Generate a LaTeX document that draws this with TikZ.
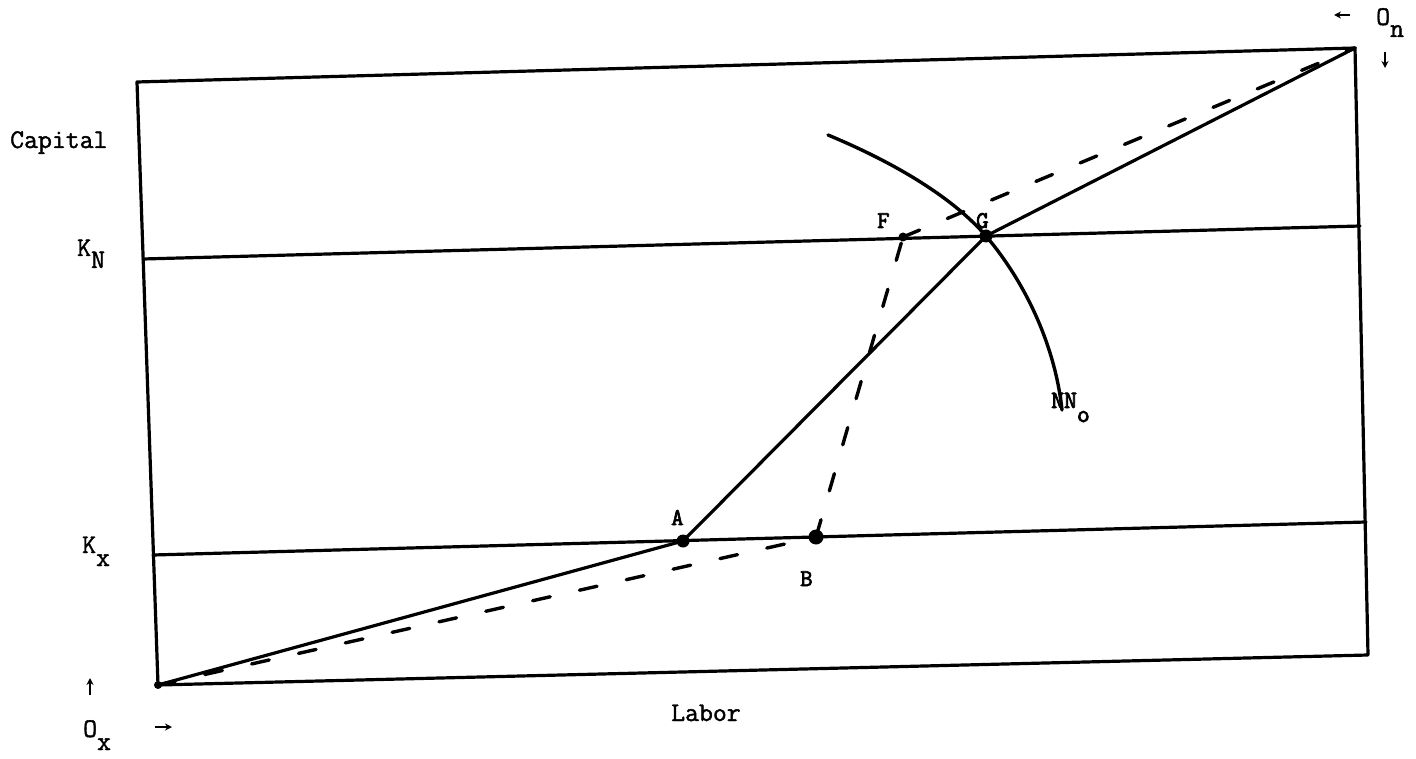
\documentclass[tikz,border=0pt]{standalone}
\usepackage{fontspec}
\newfontfamily\tw{Latin Modern Mono}[FakeBold=1.5]
\newfontfamily\twb{Latin Modern Mono}[FakeBold=3]
\usetikzlibrary{arrows.meta}
\tikzset{
  frame/.style={line width=3.2pt, line cap=round, line join=round},
  dashline/.style={line width=3.4pt, dash pattern=on 18pt off 30pt, line cap=round},
  dotmark/.style={circle, fill=black, inner sep=0pt, minimum size=#1},
  lbl/.style={inner sep=0pt, anchor=base west, font=\tw\fontsize{27}{31}\selectfont},
  ptlbl/.style={inner sep=0pt, anchor=base west, font=\twb\fontsize{24}{28}\selectfont},
  tinyarrow/.style={line width=1.5pt, -{Stealth[length=7pt,width=7pt]}}
}
\begin{document}
\begin{tikzpicture}[x=1pt,y=-1pt]
\useasboundingbox (0,0) rectangle (1416,759);
% corners
\coordinate (ox) at (158,685);
\coordinate (tl) at (137,82);
\coordinate (on) at (1355,48);
\coordinate (br) at (1368,655);
% capital lines
\coordinate (knl) at (143,259);
\coordinate (knr) at (1360,226);
\coordinate (kxl) at (153,555);
\coordinate (kxr) at (1366,522);
% points
\coordinate (A) at (683,541);
\coordinate (B) at (816,537);
\coordinate (G) at (986,236);
\coordinate (F) at (903,237);
\coordinate (arcs) at (828,135);
\coordinate (arce) at (1062,410);
% box
\draw[frame] (tl) -- (on) -- (br) -- (ox) -- cycle;
\draw[frame] (knl) -- (knr);
\draw[frame] (kxl) -- (kxr);
% contract curve
\draw[frame] (ox) -- (A) -- (G) -- (on);
% dashed path
\draw[dashline] (ox) -- (B);
\draw[dashline] (B) -- (F);
\draw[dashline] (F) -- (on);
% isoquant
\draw[line width=3.4pt, line cap=round] (arcs) .. controls (900,165) and (955,200) .. (G) .. controls (1025,282) and (1055,345) .. (arce);
% dots
\node[dotmark=13pt] (dA) at (A) {};
\node[dotmark=15pt] (dB) at (B) {};
\node[dotmark=13pt] (dG) at (G) {};
\node[dotmark=9pt] (dF) at (F) {};
\node[dotmark=8pt] (dO) at (ox) {};
% labels
\node[lbl] (cap) at (10,148) {Capital};
\node[lbl] (lab) at (671,721) {Labor};
\node[lbl] (kn) at (77,256) {K\raisebox{-12pt}{N}};
\node[lbl] (kx) at (82,553) {K\raisebox{-13pt}{x}};
\node[lbl] (oxl) at (83,737) {O\raisebox{-13pt}{x}};
\node[lbl] (onl) at (1376,25) {O\raisebox{-12pt}{n}};
\node[ptlbl] (lF) at (877,228) {F};
\node[ptlbl] (lG) at (976,228) {G};
\node[ptlbl] (lA) at (671,525) {A};
\node[ptlbl] (lB) at (800,586) {B};
\node[lbl, font=\twb\fontsize{25}{29}\selectfont] (lNN) at (1051,408) {NN\raisebox{-14pt}{o}};
% small arrows
\coordinate (a1s) at (1350,15); \coordinate (a1e) at (1334,15);
\coordinate (a2s) at (1385,52); \coordinate (a2e) at (1385,68);
\coordinate (a3s) at (90,695); \coordinate (a3e) at (90,678);
\coordinate (a4s) at (155,727); \coordinate (a4e) at (172,727);
\draw[tinyarrow] (a1s) -- (a1e);
\draw[tinyarrow] (a2s) -- (a2e);
\draw[tinyarrow] (a3s) -- (a3e);
\draw[tinyarrow] (a4s) -- (a4e);
\end{tikzpicture}
\end{document}
